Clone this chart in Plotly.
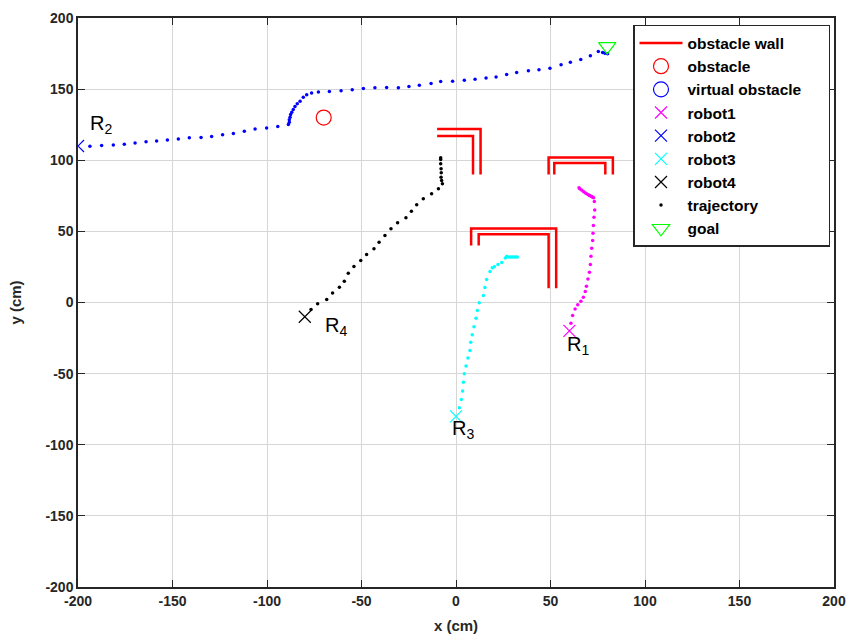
import plotly.graph_objects as go

# ---------------- data ----------------
wall_x = [-10, 13, 13, None, -10, 9, 9, None,
          49, 49, 83, 83, None, 52, 52, 79, 79, None,
          8, 8, 53, 53, None, 12, 12, 49, 49]
wall_y = [122, 122, 90, None, 117, 117, 90, None,
          90, 102, 102, 90, None, 90, 98, 98, 90, None,
          40, 52, 52, 10, None, 40, 48, 48, 10]

obstacle_x = [-70]
obstacle_y = [130]

goal_x = [80]
goal_y = [180]

robot_names = ["robot1", "robot2", "robot3", "robot4"]
robot_start_x = [60, -200, 0, -80]
robot_start_y = [-20, 110, -80, -10]
robot_colors = ["#ff00ff", "#0000ff", "#00ffff", "#000000"]

label_text = ["R<sub>1</sub>", "R<sub>2</sub>", "R<sub>3</sub>", "R<sub>4</sub>"]
label_x = [57.5, -194.5, -3, -70.5]
label_y = [-30, 125, -89, -17]

traj1_x = [60.8, 61.7, 63.0, 64.4, 66.1, 67.4, 68.4, 69.0, 69.8, 70.6, 71.1, 71.4, 71.8,
           72.3, 72.5, 72.7, 73.0, 73.4, 73.2, 72.8, 72.3, 71.8, 71.2, 70.6, 70.0, 69.1,
           68.3, 67.4, 66.4, 65.4, 65.1]
traj1_y = [-14.5, -9.1, -4.5, -1.6, 0.9, 3.7, 7.7, 11.5, 16.6, 21.3, 26.7, 32.6, 38.2,
           43.6, 48.7, 54.1, 60.0, 65.1, 71.0, 73.6, 74.0, 74.5, 74.9, 75.2, 75.7, 76.4,
           77.2, 78.0, 79.0, 79.9, 80.6]

traj2_x = [-193.7, -187.5, -181.3, -175.5, -169.8, -164.0, -158.4, -152.7, -146.9, -141.1,
           -134.9, -129.3, -123.5, -117.8, -112.0, -106.3, -100.2, -94.3, -88.7, -88.2,
           -88.2, -87.8, -87.5, -86.9, -86.1, -85.2, -84.0, -82.5, -80.8, -79.0, -76.4,
           -72.8, -67.0, -60.8, -54.9, -49.0, -42.9, -36.7, -30.5, -24.9, -19.4, -13.2,
           -8.1, -1.8, 4.4, 10.1, 15.9, 21.2, 26.8, 32.1, 38.3, 43.9, 49.7, 55.6, 60.5,
           66.0, 71.1, 75.3, 77.6, 78.8, 80.2]
traj2_y = [109.9, 110.4, 110.8, 111.3, 112.2, 113.0, 113.6, 114.3, 115.0, 115.8,
           116.0, 116.7, 117.9, 118.8, 120.4, 121.9, 122.6, 123.7, 125.1, 126.8,
           128.4, 130.3, 132.2, 133.8, 135.7, 137.8, 139.7, 141.5, 144.3, 146.0, 147.2,
           147.9, 148.3, 148.8, 149.5, 150.4, 150.9, 151.1, 150.9, 151.8, 152.8, 154.0,
           155.4, 155.6, 156.3, 157.0, 157.9, 158.6, 160.3, 161.7, 162.9, 163.6, 164.7,
           167.1, 168.9, 170.8, 173.4, 176.5, 175.7, 175.3, 174.8]

traj3_x = [1.8, 2.8, 3.5, 3.9, 4.4, 5.3, 6.3, 7.4, 7.8, 8.6, 9.5, 10.6, 11.3, 12.3,
           14.5, 15.3, 16.2, 18.0, 19.2, 20.3, 22.2, 24.2, 26.1, 26.8, 28.0, 28.9,
           29.8, 30.7, 31.6, 32.4]
traj3_y = [-74.0, -68.2, -62.3, -56.0, -50.1, -44.7, -39.1, -33.7, -27.9, -22.7, -17.1,
           -11.0, -5.6, -0.2, 4.9, 10.5, 16.2, 21.8, 24.4, 25.1, 26.7, 28.1, 31.2, 32.3,
           32.0, 31.9, 31.9, 31.9, 31.9, 31.9]

traj4_x = [-76.7, -73.2, -68.4, -65.3, -61.7, -59.1, -57.0, -54.0, -50.4, -47.3, -43.4,
           -40.7, -37.6, -34.4, -30.9, -26.5, -23.6, -20.8, -17.3, -12.9, -9.3, -7.2,
           -7.6, -7.9, -7.8, -7.9, -8.1, -8.1, -8.1]
traj4_y = [-4.9, -0.9, 2.1, 6.6, 10.8, 15.0, 20.6, 25.3, 29.5, 33.7, 37.7, 42.4, 47.1,
           51.8, 56.0, 59.5, 64.2, 68.7, 72.9, 76.4, 79.9, 83.4, 85.8, 88.1, 91.2, 94.0,
           97.5, 100.5, 101.7]

x_ticks = [-200, -150, -100, -50, 0, 50, 100, 150, 200]
y_ticks = [-200, -150, -100, -50, 0, 50, 100, 150, 200]

# ---------------- figure ----------------
FONT = "Liberation Sans, Arial, Helvetica, sans-serif"
NB = "\u00a0"
fig = go.Figure()

fig.add_trace(go.Scatter(x=wall_x, y=wall_y, mode="lines", name="obstacle wall",
                         line=dict(color="#ff0000", width=2.5)))
fig.add_trace(go.Scatter(x=obstacle_x, y=obstacle_y, mode="markers", name="obstacle",
                         marker=dict(symbol="circle-open", size=15, color="#ff0000",
                                     line=dict(width=1.2))))
fig.add_trace(go.Scatter(x=[None], y=[None], mode="markers",
                         name="virtual obstacle" + NB * 5,
                         marker=dict(symbol="circle-open", size=15, color="#0000ff",
                                     line=dict(width=1.2))))

trajs = [(traj1_x, traj1_y), (traj2_x, traj2_y), (traj3_x, traj3_y), (traj4_x, traj4_y)]
for i in range(4):
    tx, ty = trajs[i]
    fig.add_trace(go.Scatter(x=tx, y=ty, mode="markers", showlegend=(i == 3),
                             name="trajectory", legendrank=1008,
                             marker=dict(symbol="circle", size=3.5, color=robot_colors[i])))

for i in range(4):
    fig.add_trace(go.Scatter(x=[robot_start_x[i]], y=[robot_start_y[i]], mode="markers",
                             name=robot_names[i], legendrank=1003 + i,
                             marker=dict(symbol="x-thin-open", size=12,
                                         color=robot_colors[i],
                                         line=dict(width=1.2, color=robot_colors[i]))))

fig.add_trace(go.Scatter(x=goal_x, y=goal_y, mode="markers", name="goal", legendrank=1009,
                         marker=dict(symbol="triangle-down-open", size=15, color="#00ff00",
                                     line=dict(width=1.2))))

for i in range(4):
    fig.add_annotation(x=label_x[i], y=label_y[i], text=label_text[i], showarrow=False,
                       xref="x", yref="y", xanchor="left", yanchor="middle",
                       font=dict(family=FONT, size=20, color="#000000"))

axis_common = dict(showgrid=True, gridcolor="#d6d6d6", gridwidth=1,
                   showline=True, linecolor="#262626", linewidth=1.5, mirror="ticks",
                   ticks="inside", ticklen=7, tickwidth=1.2, tickcolor="#262626",
                   zeroline=False, automargin=False,
                   tickfont=dict(family=FONT, size=14, color="#262626", weight="bold"))

fig.update_xaxes(range=[-200, 200], tickvals=x_ticks, ticktext=[str(v) for v in x_ticks],
                 title=dict(text="x (cm)", font=dict(family=FONT, size=15, color="#262626",
                                                     weight="bold"), standoff=13),
                 **axis_common)
fig.update_yaxes(range=[-200, 200], tickvals=y_ticks, ticktext=[str(v) for v in y_ticks],
                 title=dict(text="y (cm)", font=dict(family=FONT, size=15, color="#262626",
                                                     weight="bold"), standoff=20),
                 **axis_common)

fig.update_layout(
    width=851, height=639,
    margin=dict(l=78, r=17, t=18, b=52),
    plot_bgcolor="white", paper_bgcolor="white",
    legend=dict(x=(633 - 78) / 756, y=0.9877, xanchor="left", yanchor="top",
                bgcolor="white", bordercolor="#262626", borderwidth=1.5,
                font=dict(family=FONT, size=15.5, color="#000000", weight="bold"),
                itemwidth=43, traceorder="normal"),
    showlegend=True,
)

fig.write_html("out.html")
